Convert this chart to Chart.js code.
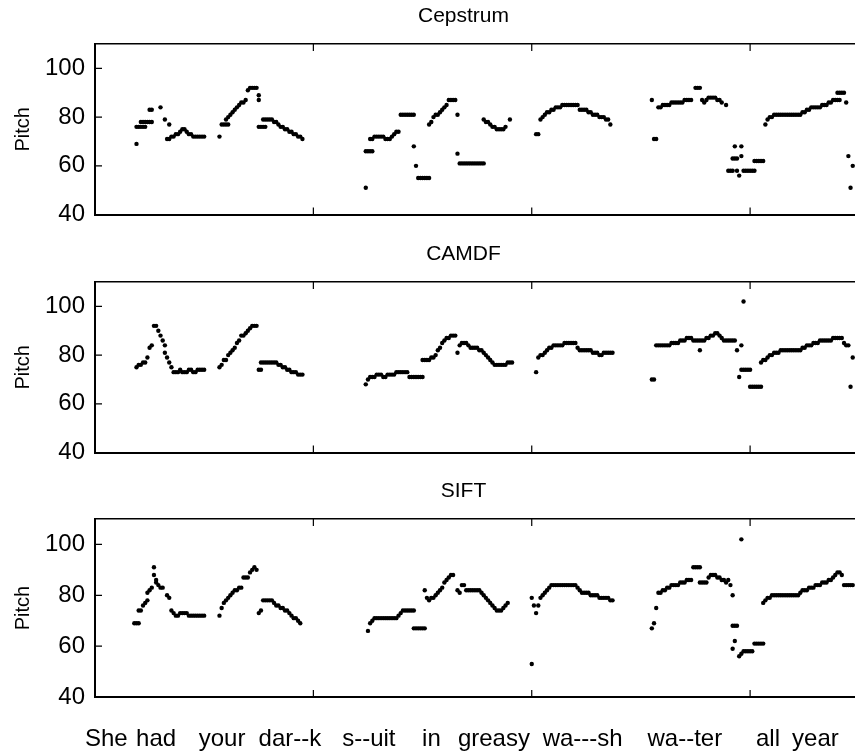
<!DOCTYPE html>
<html>
<head>
<meta charset="utf-8">
<script src="https://cdn.jsdelivr.net/npm/chart.js@4.4.1/dist/chart.umd.min.js"></script>
<style>
  html, body { margin: 0; padding: 0; background: #fff; overflow: hidden; width: 855px; height: 753px; }
  canvas { position: absolute; left: 0; }
</style>
</head>
<body>
<canvas id="c0" width="927" height="239" style="top:0px"></canvas>
<canvas id="c1" width="927" height="239" style="top:238px"></canvas>
<canvas id="c2" width="927" height="278" style="top:475px"></canvas>
<script>
// pitch tracks, one [frame, pitch] per dot
const cepstrumPts = [
  [19,69],[19,76],[20,76],[21,76],[22,76],[23,76],[21,78],[22,78],[23,78],[24,78],[25,78],[26,78],
  [25,83],[26,83],[30,84],[32,79],[34,77],
  [33,71],[34,71],[35,72],[36,72],[37,73],[38,73],[39,74],[40,75],[41,75],[42,74],[43,73],[44,73],[45,72],[46,72],[47,72],[48,72],[49,72],[50,72],
  [57,72],[58,77],[59,77],[60,77],[61,77],
  [60,79],[61,80],[62,81],[63,82],[64,83],[65,84],[66,85],[67,86],[68,86],[69,87],[70,91],[71,92],[72,92],[73,92],[74,92],[75,89],[75,87],
  [75,76],[76,76],[77,76],[78,76],[77,79],[78,79],[79,79],[80,79],[81,79],
  [82,78],[83,78],[84,77],[85,76],[86,76],[87,75],[88,75],[89,74],[90,74],[91,73],[92,73],[93,72],[94,72],[95,71],
  [124,51],[124,66],[125,66],[126,66],[127,66],
  [126,71],[127,71],[128,72],[129,72],[130,72],[131,72],[132,72],[133,71],[134,71],[135,71],[136,72],[137,73],[138,74],[139,74],
  [140,81],[141,81],[142,81],[143,81],[144,81],[145,81],[146,81],[146,68],[147,60],
  [148,55],[149,55],[150,55],[151,55],[152,55],[153,55],
  [153,77],[154,78],[155,80],[156,81],[157,81],[158,82],[159,83],[160,84],[161,85],[162,87],[163,87],[164,87],[165,87],
  [166,81],[166,65],
  [167,61],[168,61],[169,61],[170,61],[171,61],[172,61],[173,61],[174,61],[175,61],[176,61],[177,61],[178,61],
  [178,79],[179,78],[180,78],[181,77],[182,76],[183,76],[184,75],[185,75],[186,75],[187,75],[188,76],[190,79],
  [202,73],[203,73],
  [204,79],[205,80],[206,81],[207,82],[208,82],[209,83],[210,83],[211,84],[212,84],[213,84],[214,85],[215,85],[216,85],[217,85],[218,85],[219,85],[220,85],[221,85],
  [222,83],[223,83],[224,83],[225,83],[226,82],[227,82],[228,81],[229,81],[230,81],[231,80],[232,80],[233,80],[234,79],[235,79],[236,77],
  [255,87],[256,71],[257,71],
  [258,84],[259,84],[260,85],[261,85],[262,85],[263,85],[264,86],[265,86],[266,86],[267,86],[268,86],[269,86],[270,87],[271,87],[272,87],[273,87],
  [275,92],[276,92],[277,92],
  [278,87],[279,86],[280,87],[281,88],[282,88],[283,88],[284,88],[285,87],[286,87],[287,86],[289,85],
  [290,58],[291,58],[292,58],[293,68],[296,68],[292,63],[293,63],[294,63],[296,64],[294,58],[295,56],
  [297,58],[298,58],[299,58],[300,58],[301,58],[302,58],
  [302,62],[303,62],[304,62],[305,62],[306,62],
  [307,77],[308,79],[309,80],[310,80],[311,81],[312,81],[313,81],[314,81],[315,81],[316,81],[317,81],[318,81],[319,81],[320,81],[321,81],[322,81],[323,81],
  [324,82],[325,82],[326,83],[327,83],[328,84],[329,84],[330,84],[331,84],[332,84],[333,85],[334,85],[335,85],[336,86],[337,86],[338,87],[339,87],[340,87],[341,87],
  [340,90],[341,90],[342,90],[343,90],[344,86],[345,64],[346,51],[347,60]
];

const camdfPts = [
  [19,75],[20,76],[21,76],[22,77],[23,77],[24,79],[25,83],[26,84],[27,92],[28,92],[29,90],[30,88],[31,86],[32,84],[32,81],[33,79],[34,77],[35,75],
  [36,73],[37,73],[38,73],[39,74],[40,73],[41,73],[42,73],[43,74],[44,74],[45,73],[46,73],[47,74],[48,74],[49,74],[50,74],
  [57,75],[58,76],[59,78],[60,78],[61,80],[62,81],[63,82],[64,83],[65,85],[66,86],[67,88],[68,88],[69,89],[70,90],[71,91],[72,92],[73,92],[74,92],
  [75,74],[76,74],[76,77],[77,77],[78,77],[79,77],[80,77],[81,77],[82,77],[83,77],
  [84,76],[85,76],[86,75],[87,75],[88,74],[89,74],[90,73],[91,73],[92,73],[93,72],[94,72],[95,72],
  [124,68],[125,70],[126,71],[127,71],[128,71],[129,72],[130,72],[131,72],[132,71],[133,71],[134,72],[135,72],[136,72],[137,72],
  [138,73],[139,73],[140,73],[141,73],[142,73],[143,73],[144,71],[145,71],[146,71],[147,71],[148,71],[149,71],[150,71],
  [150,78],[151,78],[152,78],[153,78],[154,79],[155,79],[156,80],[157,82],[158,83],[159,85],[160,86],[161,87],[162,87],[163,88],[164,88],[165,88],
  [166,81],
  [167,84],[168,85],[169,85],[170,85],[171,84],[172,83],[173,83],[174,83],[175,83],[176,82],[177,82],[178,81],[179,80],[180,79],[181,78],[182,77],
  [183,76],[184,76],[185,76],[186,76],[187,76],[188,76],[189,77],[190,77],[191,77],
  [202,73],
  [203,79],[204,80],[205,80],[206,81],[207,82],[208,83],[209,83],[210,84],[211,84],[212,84],[213,84],[214,84],[215,85],[216,85],[217,85],[218,85],[219,85],[220,85],
  [221,83],[222,82],[223,82],[224,82],[225,82],[226,82],[227,82],[228,81],[229,81],[230,81],[231,80],[232,80],[233,81],[234,81],[235,81],[236,81],[237,81],
  [255,70],[256,70],
  [257,84],[258,84],[259,84],[260,84],[261,84],[262,84],[263,84],
  [264,85],[265,85],[266,85],[267,85],[268,86],[269,86],[270,86],[271,87],[272,87],[273,87],[274,86],[275,86],[276,86],[277,86],[278,86],[279,86],
  [280,87],[281,87],[282,88],[283,88],[284,89],[285,89],[286,88],[287,87],[288,86],[289,86],[290,86],[291,86],[292,86],[293,86],
  [277,82],[294,82],[296,84],[297,102],[295,71],
  [296,74],[297,74],[298,74],[299,74],[300,74],
  [300,67],[301,67],[302,67],[303,67],[304,67],[305,67],
  [305,77],[306,78],[307,78],[308,79],[309,80],[310,80],[311,81],[312,81],[313,81],[314,82],[315,82],[316,82],[317,82],[318,82],[319,82],[320,82],
  [321,82],[322,82],[323,82],[324,83],[325,83],[326,84],[327,84],[328,84],[329,85],[330,85],[331,85],[332,86],[333,86],[334,86],[335,86],[336,86],
  [337,86],[338,87],[339,87],[340,87],[341,87],[342,87],[343,85],[344,84],[345,84],[346,67],[347,79]
];

const siftPts = [
  [18,69],[19,69],[20,69],
  [20,74],[21,74],[22,76],[23,77],[24,78],[24,81],[25,82],[26,83],[27,91],[27,88],[28,86],[28,85],[29,84],[30,83],[31,83],[33,80],[34,79],
  [35,74],[36,73],[37,72],[38,72],[39,73],[40,73],[41,73],[42,73],[43,72],[44,72],[45,72],[46,72],[47,72],[48,72],[49,72],[50,72],
  [57,72],[58,75],[59,77],[60,78],[61,79],[62,80],[63,81],[64,82],[65,82],[66,83],[67,83],[68,87],[69,87],[70,87],[71,89],[72,90],[73,91],[74,90],
  [75,73],[76,74],[77,78],[78,78],[79,78],[80,78],[81,78],[82,77],[83,76],[84,76],[85,75],[86,75],[87,74],[88,74],[89,73],[90,72],[91,71],[92,71],[93,70],[94,69],
  [125,66],[126,69],[127,70],[128,71],[129,71],[130,71],[131,71],[132,71],[133,71],[134,71],[135,71],[136,71],[137,71],[138,71],
  [139,72],[140,73],[141,74],[142,74],[143,74],[144,74],[145,74],[146,74],
  [146,67],[147,67],[148,67],[149,67],[150,67],[151,67],
  [151,82],[152,79],[153,78],[154,79],[155,79],[156,80],[157,81],[158,82],[159,83],[160,85],[161,86],[162,87],[163,88],[164,88],
  [166,82],[167,81],[168,84],[169,84],[170,82],[171,82],[172,82],[173,82],[174,82],[175,82],[176,82],[177,81],[178,80],[179,79],[180,78],
  [181,77],[182,76],[183,75],[184,74],[185,74],[186,74],[187,75],[188,76],[189,77],
  [200,53],
  [200,79],[201,76],[202,73],[203,76],[204,79],[205,80],[206,81],[207,82],[208,83],[209,84],[210,84],[211,84],[212,84],[213,84],[214,84],[215,84],
  [216,84],[217,84],[218,84],[219,84],[220,84],[221,83],[222,82],[223,81],[224,81],[225,81],[226,81],[227,80],[228,80],[229,80],[230,80],
  [231,79],[232,79],[233,79],[234,79],[235,79],[236,78],[237,78],
  [255,67],[256,69],[257,75],[258,81],[259,81],[260,82],[261,82],[262,83],[263,83],[264,84],[265,84],[266,84],[267,84],[268,85],[269,85],[270,85],
  [271,86],[272,86],[273,86],
  [274,91],[275,91],[276,91],[277,91],
  [277,85],[278,85],[279,85],[280,85],[281,87],[282,88],[283,88],[284,88],[285,87],[286,87],[287,86],[288,86],[289,85],[290,86],[291,84],
  [292,80],[292,68],[293,68],[294,68],[293,62],[292,59],[295,56],[296,57],[297,58],[298,58],[299,58],[300,58],[301,58],
  [302,61],[303,61],[304,61],[305,61],[306,61],[296,102],
  [306,77],[307,78],[308,79],[309,79],[310,80],[311,80],[312,80],[313,80],[314,80],[315,80],[316,80],[317,80],[318,80],[319,80],[320,80],[321,80],[322,80],
  [323,81],[324,82],[325,82],[326,82],[327,83],[328,83],[329,83],[330,84],[331,84],[332,84],[333,85],[334,85],[335,85],[336,86],[337,86],[338,87],
  [339,88],[340,89],[341,89],[342,88],[343,84],[344,84],[345,84],[346,84],[347,84]
];

const panelTitles = ["Cepstrum", "CAMDF", "SIFT"];
const yTicks = [40, 60, 80, 100];
const xTicks = [100, 200, 300];
const words = ["She", "had", "your", "dar--k", "s--uit", "in", "greasy", "wa---sh", "wa--ter", "all", "year"];
// left edge of each word, in frame units
const wordPos = [-4.6, 18.8, 47.5, 74.9, 113.2, 149.8, 166.2, 205, 253, 302.7, 319.2];

const FONT = '"Liberation Sans", Arial, Helvetica, sans-serif';
const X_MIN = 0, X_MAX = 380;

// MATLAB-style ticks pointing into the box
const inwardTicks = {
  id: 'inwardTicks',
  afterDraw(chart) {
    const { ctx, chartArea: a, scales } = chart;
    ctx.save();
    ctx.strokeStyle = '#000';
    ctx.lineWidth = 1.2;
    ctx.beginPath();
    xTicks.forEach(v => {
      const px = scales.x.getPixelForValue(v);
      ctx.moveTo(px, a.bottom); ctx.lineTo(px, a.bottom - 7);
      ctx.moveTo(px, a.top); ctx.lineTo(px, a.top + 7);
    });
    yTicks.forEach(v => {
      const py = scales.y.getPixelForValue(v);
      ctx.moveTo(a.left, py); ctx.lineTo(a.left + 7, py);
      ctx.moveTo(a.right, py); ctx.lineTo(a.right - 7, py);
    });
    ctx.stroke();
    ctx.restore();
  }
};

// sentence under the last panel
const wordLabels = {
  id: 'wordLabels',
  afterDraw(chart) {
    if (!chart.options.plugins.wordLabels.show) return;
    const { ctx, chartArea: a, scales } = chart;
    ctx.save();
    ctx.fillStyle = '#000';
    ctx.font = '24px ' + FONT;
    ctx.textAlign = 'left';
    ctx.textBaseline = 'alphabetic';
    words.forEach((w, i) => {
      ctx.fillText(w, scales.x.getPixelForValue(wordPos[i]), a.bottom + 49);
    });
    ctx.restore();
  }
};

function makePanel(id, title, pts, bottomPad, showWords) {
  new Chart(document.getElementById(id), {
    type: 'scatter',
    data: {
      datasets: [{
        data: pts.map(p => ({ x: p[0], y: p[1] })),
        pointRadius: 2.2,
        pointHoverRadius: 2.2,
        backgroundColor: '#000',
        borderWidth: 0
      }]
    },
    options: {
      responsive: false,
      animation: false,
      events: [],
      layout: { padding: { left: 0, right: 0, top: 0, bottom: bottomPad } },
      plugins: {
        legend: { display: false },
        tooltip: { enabled: false },
        wordLabels: { show: showWords },
        title: {
          display: true,
          text: title,
          color: '#000',
          font: { family: FONT, size: 21, weight: 'normal' },
          padding: { top: 4, bottom: 14.8 }
        }
      },
      scales: {
        x: {
          type: 'linear', position: 'bottom', min: X_MIN, max: X_MAX,
          ticks: { display: false },
          grid: { display: false, drawTicks: false },
          border: { display: true, color: '#000', width: 2 },
          afterFit: s => { s.height = 0; }
        },
        xTop: {
          type: 'linear', position: 'top', min: X_MIN, max: X_MAX,
          ticks: { display: false },
          grid: { display: false, drawTicks: false },
          border: { display: true, color: '#000', width: 1.5 },
          afterFit: s => { s.height = 0; }
        },
        y: {
          min: 40, max: 110,
          afterBuildTicks: s => { s.ticks = yTicks.map(v => ({ value: v })); },
          ticks: { color: '#000', font: { family: FONT, size: 24 }, padding: 10 },
          grid: { display: false, drawTicks: false },
          border: { display: true, color: '#000', width: 2 },
          title: {
            display: true, text: 'Pitch', color: '#000',
            font: { family: FONT, size: 20 },
            padding: { top: 11.5, bottom: 0 }
          },
          afterFit: s => { s.width = 95; }
        }
      }
    },
    plugins: [inwardTicks, wordLabels]
  });
}

makePanel('c0', panelTitles[0], cepstrumPts, 16, false);
makePanel('c1', panelTitles[1], camdfPts, 16, false);
makePanel('c2', panelTitles[2], siftPts, 56, true);
</script>
</body>
</html>
